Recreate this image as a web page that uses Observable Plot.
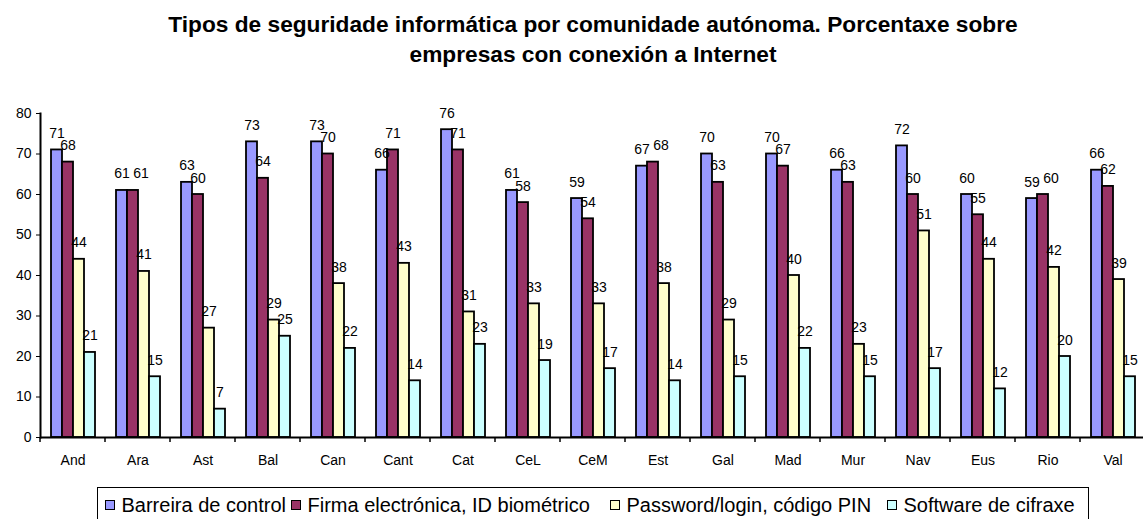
<!DOCTYPE html>
<html>
<head>
<meta charset="utf-8">
<script src="https://cdn.jsdelivr.net/npm/d3@7"></script>
<script src="https://cdn.jsdelivr.net/npm/@observablehq/plot@0.6"></script>
<style>
  body { margin: 0; background: #fff; font-family: "Liberation Sans", Arial, sans-serif; }
  #wrap { position: relative; width: 1143px; height: 519px; overflow: hidden; background: #fff; }
  #title { position: absolute; left: 36px; width: 1114px; top: 9px; text-align: center; font-weight: bold; font-size: 22.7px; line-height: 30px; color: #000; }
  #chart { position: absolute; left: 0; top: 70px; }
  #legend { position: absolute; left: 97px; top: 487px; width: 992px; height: 40px; border: 1.5px solid #000; box-sizing: border-box; background: #fff; }
  .item { position: absolute; top: 5px; display: flex; align-items: center; height: 24px; font-size: 20px; line-height: 24px; white-space: nowrap; color: #000; }
  .sw { width: 10px; height: 10px; border: 1.5px solid #000; box-sizing: border-box; margin-right: 7px; }
</style>
</head>
<body>
<div id="wrap">
  <div id="title">Tipos de seguridade informática por comunidade autónoma. Porcentaxe sobre<br>empresas con conexión a Internet</div>
  <div id="chart"></div>
  <div id="legend"></div>
</div>
<script>
const categories = ["And","Ara","Ast","Bal","Can","Cant","Cat","CeL","CeM","Est","Gal","Mad","Mur","Nav","Eus","Rio","Val"];
const series = ["Barreira de control","Firma electrónica, ID biométrico","Password/login, código PIN","Software de cifraxe"];
const barreira = [71,61,63,73,73,66,76,61,59,67,70,70,66,72,60,59,66];
const firma    = [68,61,60,64,70,71,71,58,54,68,63,67,63,60,55,60,62];
const password = [44,41,27,29,38,43,31,33,33,38,29,40,23,51,44,42,39];
const software = [21,15,7,25,22,14,23,19,17,14,15,22,15,17,12,20,15];
const yTicks = [0,10,20,30,40,50,60,70,80];
const colors = ["#9999FF","#993366","#FFFFCC","#CCFFFF"];
const legendLeft = [6.5, 192.5, 511.5, 788.5];

const values = [barreira, firma, password, software];
const data = categories.flatMap((c, i) => series.map((s, j) => ({
  cat: c, series: s, value: values[j][i],
  // a label sitting right after a neighbour of nearly equal height is nudged aside, as the source does
  crowded: j === 1 && values[1][i] >= values[0][i] && values[1][i] - values[0][i] <= 1
})));

function boundaryTicks(index, scales, vals, dimensions) {
  const g = d3.create("svg:g");
  let x0 = dimensions.marginLeft;
  try { if (scales.x && scales.x.range) x0 = scales.x.range()[0]; } catch (e) {}
  const y0 = scales.y(0);
  g.append("line").attr("x1", x0).attr("x2", x0).attr("y1", y0).attr("y2", y0 + 5)
    .attr("stroke", "#000").attr("stroke-width", 1.5);
  return g.node();
}

const labelOpts = {fx: "cat", x: "series", y: "value", text: d => String(d.value), lineAnchor: "bottom", dy: -12, fontSize: 14, fill: "#000"};

const chart = Plot.plot({
  width: 1143,
  height: 415,
  marginLeft: 36,
  marginRight: -6,
  marginTop: 43,
  marginBottom: 48,
  style: {fontFamily: "'Liberation Sans', Arial, sans-serif", fontSize: "14px", color: "#000", background: "transparent", overflow: "visible"},
  fx: {domain: categories, padding: 0, label: null},
  x: {domain: series, paddingInner: 0, paddingOuter: 0.85, axis: null},
  y: {domain: [0, 80], label: null},
  color: {domain: series, range: colors},
  marks: [
    Plot.barY(data, {fx: "cat", x: "series", y: "value", fill: "series", stroke: "#000", strokeWidth: 1.8}),
    Plot.text(data.filter(d => !d.crowded), labelOpts),
    Plot.text(data.filter(d => d.crowded), {...labelOpts, dx: 8}),
    Plot.ruleY([0], {stroke: "#000", strokeWidth: 2}),
    Plot.frame({anchor: "left", facetAnchor: "left", stroke: "#000", strokeWidth: 2}),
    Plot.axisY(yTicks, {tickSize: 4, tickPadding: 5, fontSize: 14, label: null, stroke: "#000"}),
    Plot.axisFx({anchor: "bottom", tickSize: 0, tickPadding: 18, fontSize: 14, label: null}),
    boundaryTicks
  ]
});
document.getElementById("chart").appendChild(chart);

const legend = document.getElementById("legend");
series.forEach((s, i) => {
  const item = document.createElement("div");
  item.className = "item";
  item.style.left = legendLeft[i] + "px";
  const sw = document.createElement("div");
  sw.className = "sw";
  sw.style.background = colors[i];
  const t = document.createElement("span");
  t.textContent = s;
  item.appendChild(sw);
  item.appendChild(t);
  legend.appendChild(item);
});
</script>
</body>
</html>
